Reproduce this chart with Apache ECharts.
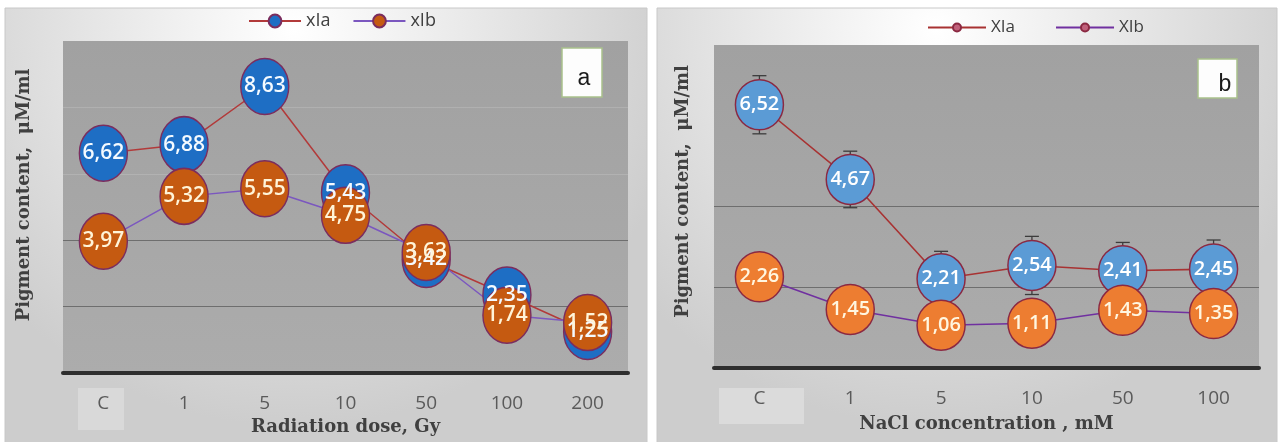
<!DOCTYPE html>
<html>
<head>
<meta charset="utf-8">
<script src="https://cdn.jsdelivr.net/npm/echarts@6/dist/echarts.min.js"></script>
<style>
  html, body { margin: 0; padding: 0; background: #ffffff; }
  #chart { width: 1282px; height: 442px; }
</style>
</head>
<body>
<div id="chart"></div>
<script>
// Panel a: pigment content vs. radiation dose
const doseCategories = ['C', '1', '5', '10', '50', '100', '200'];
const doseXIa = [6.62, 6.88, 8.63, 5.43, 3.42, 2.35, 1.25];
const doseXIb = [3.97, 5.32, 5.55, 4.75, 3.63, 1.74, 1.52];

// Panel b: pigment content vs. NaCl concentration
const naclCategories = ['C', '1', '5', '10', '50', '100'];
const naclXIa = [6.52, 4.67, 2.21, 2.54, 2.41, 2.45];
const naclXIb = [2.26, 1.45, 1.06, 1.11, 1.43, 1.35];
const naclXIaErr = [0.72, 0.70, 0.68, 0.72, 0.70, 0.72];

const serifTitle = { fontFamily: 'DejaVu Serif', fontWeight: 'bold', fontSize: 18, color: '#404040' };
const catLabel = { fontFamily: 'Open Sans', fontSize: 19, color: '#5a5a5a' };
const comma = p => p.value.toFixed(2).replace('.', ',');

function frameFill() {
  return new echarts.graphic.RadialGradient(0.45, 0.05, 0.9, [
    { offset: 0, color: '#ffffff' },
    { offset: 0.5, color: '#e6e6e6' },
    { offset: 1, color: '#cdcdcd' }
  ]);
}
function plotFill() {
  return new echarts.graphic.LinearGradient(0, 0, 0, 1, [
    { offset: 0, color: '#a1a1a1' },
    { offset: 1, color: '#acacac' }
  ]);
}

function errorBars(params, api) {
  const x = api.value(0), y = api.value(1), e = api.value(2);
  const top = api.coord([x, y + e]);
  const bot = api.coord([x, y - e]);
  const cap = 7;
  const st = { stroke: '#3c3c3c', lineWidth: 1.3 };
  return {
    type: 'group',
    children: [
      { type: 'line', shape: { x1: top[0], y1: top[1], x2: bot[0], y2: bot[1] }, style: st },
      { type: 'line', shape: { x1: top[0] - cap, y1: top[1], x2: top[0] + cap, y2: top[1] }, style: st },
      { type: 'line', shape: { x1: bot[0] - cap, y1: bot[1], x2: bot[0] + cap, y2: bot[1] }, style: st }
    ]
  };
}

const chart = echarts.init(document.getElementById('chart'), null, { renderer: 'canvas' });

const option = {
  animation: false,
  backgroundColor: '#ffffff',
  graphic: [
    { type: 'rect', z: -10, shape: { x: 5, y: 8, width: 642, height: 440 },
      style: { fill: frameFill(), stroke: '#c8c8c8', lineWidth: 1 } },
    { type: 'rect', z: -10, shape: { x: 657, y: 8, width: 620, height: 440 },
      style: { fill: frameFill(), stroke: '#c8c8c8', lineWidth: 1 } },
    { type: 'rect', z: -9, shape: { x: 78, y: 388, width: 46, height: 42 }, style: { fill: '#d9d9d9' } },
    { type: 'rect', z: -9, shape: { x: 719, y: 388, width: 85, height: 36 }, style: { fill: '#dbdbdb' } },
    { type: 'rect', z: 20, shape: { x: 562, y: 48, width: 40, height: 49 },
      style: { fill: '#fdfdfd', stroke: '#a9c18c', lineWidth: 1.5 } },
    { type: 'text', z: 21, x: 584, y: 79,
      style: { text: 'a', fill: '#1a1a1a', font: '23px "Liberation Sans"', textAlign: 'center', textVerticalAlign: 'middle' } },
    { type: 'rect', z: 20, shape: { x: 1198, y: 59, width: 39, height: 39 },
      style: { fill: '#fdfdfd', stroke: '#a9c18c', lineWidth: 1.5 } },
    { type: 'text', z: 21, x: 1225, y: 85,
      style: { text: 'b', fill: '#1a1a1a', font: '23px "Liberation Sans"', textAlign: 'center', textVerticalAlign: 'middle' } }
  ],
  legend: [
    {
      left: 243, top: 7, itemWidth: 52, itemHeight: 16, itemGap: 22,
      textStyle: { fontFamily: 'Open Sans', fontSize: 18, color: '#404040' },
      data: ['xIa', 'xIb']
    },
    {
      left: 922, top: 14, itemWidth: 58, itemHeight: 10, itemGap: 40,
      textStyle: { fontFamily: 'Open Sans', fontSize: 17, color: '#404040' },
      data: [
        { name: 'XIa', itemStyle: { color: '#c0607a', borderColor: '#8b2942' } },
        { name: 'XIb', itemStyle: { color: '#c0607a', borderColor: '#8b2942' } }
      ]
    }
  ],
  grid: [
    { left: 63, right: 654, top: 41, bottom: 69, show: true, backgroundColor: plotFill(), borderWidth: 0 },
    { left: 714, right: 23, top: 45, bottom: 74, show: true, backgroundColor: plotFill(), borderWidth: 0 }
  ],
  xAxis: [
    {
      gridIndex: 0, type: 'category', data: doseCategories, boundaryGap: true,
      axisLine: { lineStyle: { color: '#2e2e2e', width: 4 } },
      axisTick: { show: false },
      axisLabel: Object.assign({ margin: 21 }, catLabel),
      name: 'Radiation dose, Gy', nameLocation: 'middle', nameGap: 44, nameTextStyle: serifTitle
    },
    {
      gridIndex: 1, type: 'category', data: naclCategories, boundaryGap: true,
      axisLine: { lineStyle: { color: '#2e2e2e', width: 4 } },
      axisTick: { show: false },
      axisLabel: Object.assign({ margin: 21 }, catLabel),
      name: 'NaCl concentration , mM', nameLocation: 'middle', nameGap: 47, nameTextStyle: serifTitle
    }
  ],
  yAxis: [
    {
      gridIndex: 0, type: 'value', min: 0, max: 10, interval: 2,
      axisLine: { show: false }, axisTick: { show: false }, axisLabel: { show: false },
      splitLine: { lineStyle: { width: 1.2, color: ['#555555', '#6e6e6e', '#6e6e6e', '#b2b2b2', '#b0b0b0', 'rgba(0,0,0,0)'] } },
      name: 'Pigment content,  μM/ml', nameLocation: 'middle', nameRotate: 90, nameGap: 30,
      nameTextStyle: Object.assign({ padding: [0, 0, 0, 24] }, serifTitle)
    },
    {
      gridIndex: 1, type: 'value', min: 0, max: 8, interval: 2,
      axisLine: { show: false }, axisTick: { show: false }, axisLabel: { show: false },
      splitLine: { lineStyle: { width: 1.2, color: ['#555555', '#6e6e6e', '#6e6e6e', 'rgba(0,0,0,0)', 'rgba(0,0,0,0)'] } },
      name: 'Pigment content,  μM/ml', nameLocation: 'middle', nameRotate: 90, nameGap: 22,
      nameTextStyle: Object.assign({ padding: [0, 0, 0, 30] }, serifTitle)
    }
  ],
  series: [
    {
      name: 'xIa', type: 'line', xAxisIndex: 0, yAxisIndex: 0, data: doseXIa,
      symbol: 'circle', symbolSize: [48, 56],
      lineStyle: { color: '#b23a3a', width: 1.5 },
      itemStyle: { color: '#1e6ec4', borderColor: '#7b2d5e', borderWidth: 1.5 },
      label: { show: true, position: 'inside', formatter: comma, fontFamily: 'Open Sans', fontWeight: 600, fontSize: 21, color: '#f4faff' }
    },
    {
      name: 'xIb', type: 'line', xAxisIndex: 0, yAxisIndex: 0, data: doseXIb,
      symbol: 'circle', symbolSize: [48, 56],
      lineStyle: { color: '#7b57bf', width: 1.5 },
      itemStyle: { color: '#c55a11', borderColor: '#7b2d5e', borderWidth: 1.5 },
      label: { show: true, position: 'inside', formatter: comma, fontFamily: 'Open Sans', fontWeight: 600, fontSize: 21, color: '#fff4d8' }
    },
    {
      name: 'XIa err', type: 'custom', xAxisIndex: 1, yAxisIndex: 1, z: 1,
      renderItem: errorBars,
      data: naclXIa.map((v, i) => [i, v, naclXIaErr[i]])
    },
    {
      name: 'XIa', type: 'line', xAxisIndex: 1, yAxisIndex: 1, data: naclXIa,
      symbol: 'circle', symbolSize: [48, 50],
      lineStyle: { color: '#a83232', width: 1.6 },
      itemStyle: { color: '#5b9bd5', borderColor: '#8b2942', borderWidth: 1.5 },
      label: { show: true, position: 'inside', formatter: comma, fontFamily: 'Open Sans', fontWeight: 600, fontSize: 20, color: '#ffffff' }
    },
    {
      name: 'XIb', type: 'line', xAxisIndex: 1, yAxisIndex: 1, data: naclXIb,
      symbol: 'circle', symbolSize: [48, 50],
      lineStyle: { color: '#7030a0', width: 1.6 },
      itemStyle: { color: '#ed7d31', borderColor: '#8b2942', borderWidth: 1.5 },
      label: { show: true, position: 'inside', formatter: comma, fontFamily: 'Open Sans', fontWeight: 600, fontSize: 20, color: '#fff6e0' }
    }
  ]
};

chart.setOption(option);
</script>
</body>
</html>
